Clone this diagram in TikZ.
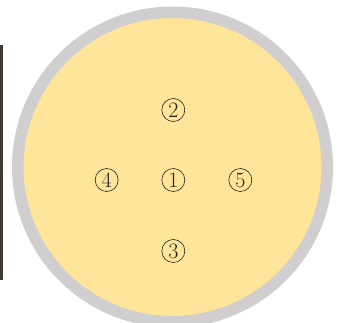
\documentclass[tikz,border=0pt]{standalone}
\usetikzlibrary{shapes.geometric}
\definecolor{fillyellow}{HTML}{FFE599}
\definecolor{ringgray}{HTML}{D0CECF}
\definecolor{bardark}{HTML}{403A30}
\definecolor{inkdark}{HTML}{222222}
\tikzset{
  numcirc/.style={circle, draw=inkdark, text=inkdark, line width=0.6pt, minimum size=23pt, inner sep=0pt,
    font=\fontsize{22}{22}\selectfont}
}
\begin{document}
\begin{tikzpicture}[x=1pt,y=-1pt]
\useasboundingbox (0,0) rectangle (339,322);
\fill[bardark] (0,45) rectangle (3,280);
\draw[ringgray, line width=11.5pt, fill=fillyellow] (172.5,167) circle[radius=154.75];
\node[numcirc] (n2) at (173.3,110) {2};
\node[numcirc] (n4) at (106.7,180) {4};
\node[numcirc] (n1) at (173.3,180) {1};
\node[numcirc] (n5) at (240.3,180) {5};
\node[numcirc] (n3) at (173.3,251) {3};
\end{tikzpicture}
\end{document}
